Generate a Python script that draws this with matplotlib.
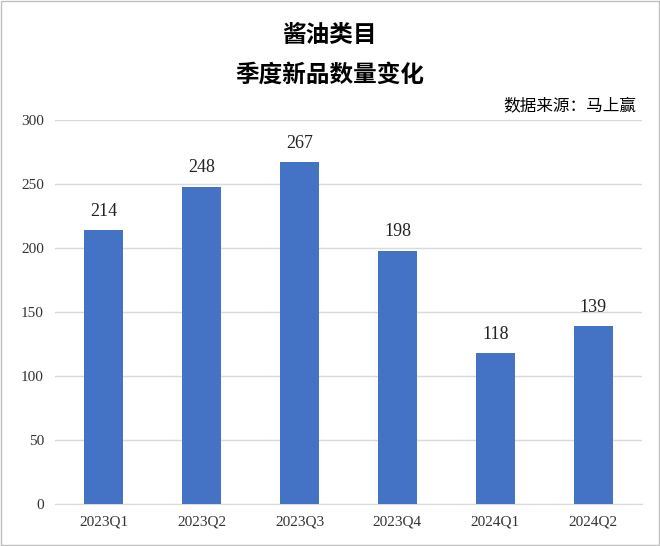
import matplotlib.pyplot as plt
from matplotlib.patches import Rectangle

quarters = ["2023Q1", "2023Q2", "2023Q3", "2023Q4", "2024Q1", "2024Q2"]
counts = [214, 248, 267, 198, 118, 139]

cjk = ["Noto Sans CJK SC", "DejaVu Sans"]
serif = ["Liberation Serif", "DejaVu Serif"]

fig = plt.figure(figsize=(6.6, 5.46), dpi=100)
ax = fig.add_axes([55 / 660, 42 / 546, 587 / 660, 384 / 546])

ax.bar(quarters, counts, width=0.4, color="#4472C4", zorder=3)
for i, v in enumerate(counts):
    ax.text(i, v + 8, str(v), ha="center", va="bottom", fontsize=13,
            family=serif, color="#222222")

ax.set_ylim(0, 300)
ax.set_yticks(range(0, 301, 50))
ax.set_xlim(-0.5, len(quarters) - 0.5)
ax.grid(axis="y", color="#d9d9d9", linewidth=1, zorder=0)
for s in ["top", "right", "left"]:
    ax.spines[s].set_visible(False)
ax.spines["bottom"].set_color("#d9d9d9")
ax.tick_params(length=0, labelsize=11, colors="#333333", pad=8)
for lbl in ax.get_xticklabels() + ax.get_yticklabels():
    lbl.set_family(serif)

fig.text(0.5, 1 - 35 / 546, "酱油类目", ha="center", va="center",
         fontsize=17, family=cjk, weight="bold")
fig.text(0.5, 1 - 75 / 546, "季度新品数量变化", ha="center", va="center",
         fontsize=17, family=cjk, weight="bold")
fig.text(636 / 660, 1 - 106 / 546, "数据来源：马上赢", ha="right", va="center",
         fontsize=12, family=cjk)

fig.patches.append(Rectangle((0.002, 0.002), 0.996, 0.996, transform=fig.transFigure,
                             fill=False, edgecolor="#bfbfbf", linewidth=1))

fig.savefig("out.png", dpi=100)
